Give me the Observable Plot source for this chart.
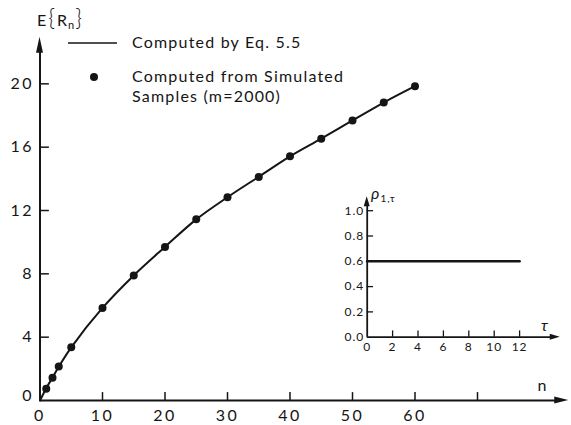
<!DOCTYPE html>
<html><head><meta charset="utf-8">
<script src="https://cdn.jsdelivr.net/npm/d3@7"></script>
<script src="https://cdn.jsdelivr.net/npm/@observablehq/plot@0.6"></script>
<style>
body{margin:0;background:#fff;}
#wrap{position:relative;width:571px;height:425px;overflow:hidden;background:#fff;}
#wrap svg{position:absolute;left:0;top:0;background:transparent;}
#wrap svg text{letter-spacing:1px;}
#wrap svg text.legend{letter-spacing:1.2px;}
</style></head><body><div id="wrap"></div>
<script>
// ---- data ----
const simN = [1,2,3,5,10,15,20,25,30,35,40,45,50,55,60];
const simValues = [0.75,1.43,2.15,3.37,5.85,7.9,9.7,11.44,12.84,14.12,15.42,16.53,17.69,18.82,19.85];
const eqN = [0,1,2,3,5,10,15,20,25,30,35,40,45,50,55,60];
const eqValues = [0,0.78,1.45,2.13,3.36,5.85,7.9,9.7,11.44,12.84,14.13,15.42,16.54,17.69,18.82,19.85];
const xTicks = [10,20,30,40,50,60,70];
const xTickLabels = [0,10,20,30,40,50,60];
const yTicks = [4,8,12,16,20];
const tauValues = [0,12];
const rhoValues = [0.6,0.6];
const tauTicks = [2,4,6,8,10,12];
const tauTickLabels = [0,2,4,6,8,10,12];
const rhoTicks = [0.2,0.4,0.6,0.8,1.0];
const rhoTickLabels = ["0.0","0.2","0.4","0.6","0.8","1.0"];
const legendLabels = ["Computed by Eq. 5.5","Computed from Simulated","Samples (m=2000)"];

const FONT = "Lato, 'DejaVu Sans', sans-serif";
const INK = "#151515";
const wrap = document.getElementById("wrap");

// ---- main chart ----
const W = 571, H = 425;
const mainXEnd = 84.6, mainYEnd = 22.95;
const main = Plot.plot({
  width: W, height: H,
  marginLeft: 39.5, marginRight: 0, marginTop: 35.84, marginBottom: 25,
  x: {domain: [0, 85.04], axis: null},
  y: {domain: [0, 23], axis: null},
  style: {fontFamily: FONT, fontSize: "15px", color: INK, background: "transparent", overflow: "visible"},
  marks: [
    Plot.ruleY([0], {x1: 0, x2: mainXEnd - 1.5, stroke: INK, strokeWidth: 2}),
    Plot.ruleX([0], {y1: 0, y2: mainYEnd - 0.8, stroke: INK, strokeWidth: 2}),
    Plot.ruleX(xTicks, {x: d => d, y1: 0, y2: 0.5, stroke: INK, strokeWidth: 1.5}),
    Plot.ruleY(yTicks, {y: d => d, x1: 0, x2: 1.5, stroke: INK, strokeWidth: 1.5}),
    Plot.text(xTickLabels, {x: d => d, y: 0, dy: 15, text: d => String(d), fill: INK, fontSize: 16}),
    Plot.text(yTicks, {x: 0, y: d => d, dx: -6, textAnchor: "end", text: d => String(d), fill: INK, fontSize: 16}),
    Plot.text([0], {x: 0, y: 0, dx: -6, dy: -5, textAnchor: "end", text: d => String(d), fill: INK, fontSize: 16}),
    Plot.text(["n"], {x: 80.4, y: 0, dy: -15, text: d => d, fill: INK, fontSize: 16}),
    Plot.line(eqN.map((n, i) => ({n, v: eqValues[i]})), {x: "n", y: "v", curve: "catmull-rom", stroke: INK, strokeWidth: 2}),
    Plot.dot(simN.map((n, i) => ({n, v: simValues[i]})), {x: "n", y: "v", r: 4, fill: INK, stroke: "none"})
  ]
});
wrap.appendChild(main);
d3.select(main).selectAll("text").filter(function(){ return /^\d+$/.test(this.textContent); })
  .style("letter-spacing", "2.5px");

function arrowHead(svg, tx, ty, dir, len, hw) {
  let p;
  if (dir === "right") p = `M${tx},${ty}L${tx-len},${ty-hw}L${tx-len},${ty+hw}Z`;
  else p = `M${tx},${ty}L${tx-hw},${ty+len}L${tx+hw},${ty+len}Z`;
  d3.select(svg).append("path").attr("d", p).attr("fill", INK);
}
{
  const sx = main.scale("x"), sy = main.scale("y");
  arrowHead(main, sx.apply(mainXEnd), sy.apply(0), "right", 14, 3.5);
  arrowHead(main, sx.apply(0), sy.apply(mainYEnd), "up", 16, 3.5);

  const g = d3.select(main).append("g").attr("fill", INK).attr("text-anchor", "start")
    .style("font-family", FONT).style("font-size", "16px");
  // y-axis title E{R_n}
  const t = g.append("text").attr("x", 37).attr("y", 26).attr("text-anchor", "start");
  t.append("tspan").text("E").attr("font-size", 16);
  t.append("tspan").text("{").attr("font-size", 23).attr("dx", 1).attr("font-weight", 300);
  t.append("tspan").text("R").attr("font-size", 16).attr("dx", 1);
  t.append("tspan").text("n").attr("font-size", 11).attr("dy", 3);
  t.append("tspan").text("}").attr("font-size", 23).attr("dy", -3).attr("font-weight", 300);
  // legend
  g.append("line").attr("x1", 68).attr("x2", 117).attr("y1", 43).attr("y2", 43)
    .attr("stroke", INK).attr("stroke-width", 1.5);
  g.append("circle").attr("cx", 94).attr("cy", 77).attr("r", 4);
  const ly = [48, 82, 102];
  legendLabels.forEach((s, i) => g.append("text").attr("class", "legend").attr("x", 132).attr("y", ly[i])
    .attr("text-anchor", "start").text(s));
}

// ---- inset chart ----
const IL = 330, IT = 175, IW = 240, IH = 185;
const insetXEnd = 15.2, insetYEnd = 1.11;
const inset = Plot.plot({
  width: IW, height: IH,
  marginLeft: 36.7, marginRight: IW - 36.7 - 15.5 * 12.7, marginTop: 0, marginBottom: IH - 161.7,
  x: {domain: [0, 15.5], axis: null},
  y: {domain: [0, 161.7 / 126.5], axis: null},
  style: {fontFamily: FONT, fontSize: "11px", color: INK, background: "transparent", overflow: "visible"},
  marks: [
    Plot.ruleY([0], {x1: 0, x2: insetXEnd - 0.7, stroke: INK, strokeWidth: 1.8}),
    Plot.ruleX([0], {y1: 0, y2: insetYEnd - 0.06, stroke: INK, strokeWidth: 1.8}),
    Plot.ruleX(tauTicks, {x: d => d, y1: 0, y2: 0.05, stroke: INK, strokeWidth: 1.3}),
    Plot.ruleY(rhoTicks, {y: d => d, x1: 0, x2: 0.5, stroke: INK, strokeWidth: 1.3}),
    Plot.text(tauTickLabels, {x: d => d, y: 0, dy: 10, text: d => String(d), fill: INK, fontSize: 12}),
    Plot.text(rhoTickLabels, {x: 0, y: d => +d, dx: -3, textAnchor: "end", text: d => d, fill: INK, fontSize: 12}),
    Plot.line(tauValues.map((t, i) => ({t, r: rhoValues[i]})), {x: "t", y: "r", stroke: INK, strokeWidth: 2.5})
  ]
});
inset.style.left = IL + "px";
inset.style.top = IT + "px";
wrap.appendChild(inset);
{
  const sx = inset.scale("x"), sy = inset.scale("y");
  arrowHead(inset, sx.apply(insetXEnd), sy.apply(0), "right", 10, 3);
  arrowHead(inset, sx.apply(0), sy.apply(insetYEnd), "up", 10, 3);
  const g = d3.select(inset).append("g").attr("fill", INK).attr("text-anchor", "start").style("font-family", FONT);
  const t = g.append("text").attr("x", 41).attr("y", 24).attr("text-anchor", "start");
  t.append("tspan").text("ρ").attr("font-size", 16).attr("font-style", "italic");
  t.append("tspan").text("1,τ").attr("font-size", 10).attr("dy", 3);
  g.append("text").attr("x", 211).attr("y", 156).attr("text-anchor", "start")
    .attr("font-size", 16).attr("font-style", "italic").text("τ");
}
</script></body></html>
